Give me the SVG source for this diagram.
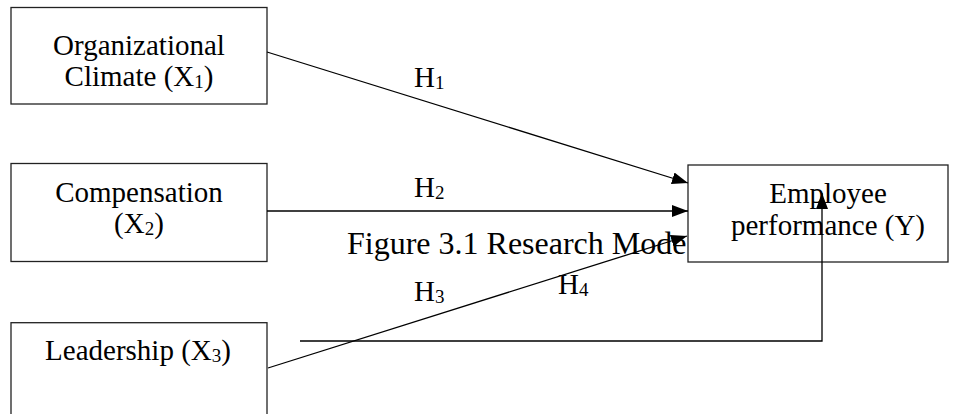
<svg xmlns="http://www.w3.org/2000/svg" width="953" height="414" viewBox="0 0 953 414">
<style>
.box{fill:#fff;stroke:#222;stroke-width:1.3}
.t{font-family:"Liberation Serif","Times New Roman",serif;font-size:29px;fill:#000}
.cap{font-family:"Liberation Serif","Times New Roman",serif;font-size:32px;fill:#000}
.c{text-anchor:middle}
.ln{fill:none;stroke:#000;stroke-width:1.3}
</style>
<defs>
<marker id="ah" markerWidth="16" markerHeight="12" refX="16" refY="6" orient="auto" markerUnits="userSpaceOnUse">
<path d="M0,0 L16,6 L0,12 Z" fill="#000"/>
</marker>
</defs>
<text class="cap" x="347" y="254">Figure 3.1 Research Mode</text>
<g id="x1">
<rect class="box" x="11" y="7.5" width="256" height="96.5"/>
<text class="t c" x="139" y="55">Organizational</text>
<text class="t c" x="139" y="86">Climate (X<tspan font-size="19" dy="2">1</tspan><tspan dy="-2">)</tspan></text>
</g>
<g id="x2">
<rect class="box" x="11" y="163.5" width="256" height="98"/>
<text class="t c" x="139" y="202">Compensation</text>
<text class="t c" x="139" y="233">(X<tspan font-size="19" dy="2">2</tspan><tspan dy="-2">)</tspan></text>
</g>
<g id="x3">
<rect class="box" x="11" y="322.7" width="256" height="110"/>
<text class="t c" x="138" y="360">Leadership (X<tspan font-size="19" dy="2">3</tspan><tspan dy="-2">)</tspan></text>
</g>
<g id="y">
<rect class="box" x="688" y="165" width="260" height="97"/>
<text class="t c" x="828" y="203">Employee</text>
<text class="t c" x="828" y="235">performance (Y)</text>
</g>
<g id="connectors">
<line class="ln" x1="267" y1="52" x2="688" y2="183" marker-end="url(#ah)"/>
<line class="ln" x1="267" y1="211" x2="688" y2="211" marker-end="url(#ah)"/>
<line class="ln" x1="268" y1="368" x2="687" y2="236" marker-end="url(#ah)"/>
<polyline class="ln" points="300,341 822,341 822,193" marker-end="url(#ah)"/>
</g>
<g id="labels">
<text class="t" x="414" y="87">H<tspan font-size="19" dy="2">1</tspan></text>
<text class="t" x="414" y="197">H<tspan font-size="19" dy="2">2</tspan></text>
<text class="t" x="414" y="301">H<tspan font-size="19" dy="2">3</tspan></text>
<text class="t" x="558" y="294">H<tspan font-size="19" dy="2">4</tspan></text>
</g>
</svg>
